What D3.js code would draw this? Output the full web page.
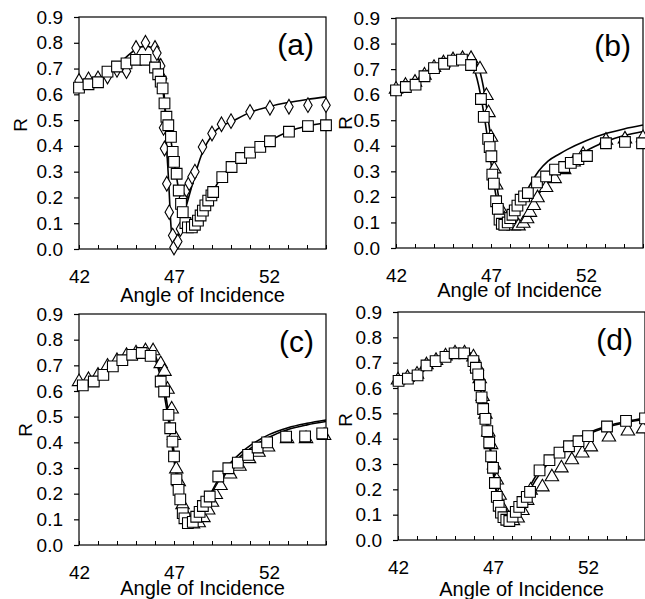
<!DOCTYPE html>
<html>
<head>
<meta charset="utf-8">
<script src="https://cdn.jsdelivr.net/npm/d3@7"></script>
<style>
body { margin: 0; background: #fff; }
svg text { font-family: "Liberation Sans", Arial, sans-serif; fill: #000; }
</style>
</head>
<body>
<svg id="fig" width="645" height="599"></svg>
<script>
// axis ticks
var angleTicks = [42, 43, 44, 45, 46, 47, 48, 49, 50, 51, 52, 53, 54, 55];
var angleLabels = [42, 47, 52];
var rTicks = [0, 0.1, 0.2, 0.3, 0.4, 0.5, 0.6, 0.7, 0.8, 0.9];

// panel (a): [angle, R]
var aDiamonds = [[42,0.652],[42.5,0.658],[43,0.662],[43.5,0.669],[44,0.695],[44.5,0.69],[45,0.78],[45.5,0.8],[46,0.78],[46.1,0.76],[46.3,0.71],[46.4,0.66],[46.45,0.47],[46.5,0.39],[46.62,0.253],[46.75,0.143],[46.93,0.052],[47.0,0.006],[47.2,0.029],[47.34,0.078],[47.5,0.2],[47.65,0.23],[47.8,0.255],[47.95,0.28],[48.1,0.3],[48.5,0.396],[49,0.448],[49.5,0.484],[50,0.496],[51,0.532],[52.05,0.548],[53.05,0.552],[54.05,0.558],[55,0.558]];
var aSquares = [[42,0.626],[42.5,0.639],[43,0.647],[43.5,0.688],[44,0.708],[44.5,0.72],[45,0.734],[45.5,0.734],[46,0.704],[46.17,0.678],[46.3,0.649],[46.4,0.623],[46.5,0.565],[46.6,0.513],[46.7,0.48],[46.84,0.435],[46.93,0.377],[47.0,0.338],[47.14,0.292],[47.25,0.227],[47.37,0.175],[47.46,0.143],[47.6,0.101],[47.73,0.084],[47.94,0.084],[48.1,0.094],[48.26,0.11],[48.4,0.13],[48.52,0.149],[48.65,0.169],[48.8,0.188],[48.97,0.208],[49.06,0.221],[49.54,0.279],[50.03,0.318],[50.53,0.353],[51,0.374],[51.54,0.396],[52.05,0.418],[53.05,0.455],[54.05,0.477],[55,0.48]];
var aFitDiamonds = [[42,0.635],[42.5,0.645],[43,0.66],[43.5,0.68],[44,0.71],[44.5,0.745],[45,0.775],[45.5,0.787],[45.8,0.782],[46,0.765],[46.3,0.71],[46.5,0.58],[46.57,0.455],[46.72,0.26],[46.84,0.09],[46.96,0.006],[47.1,0.02],[47.46,0.117],[47.9,0.234],[48.44,0.364],[49.15,0.455],[50.2,0.5],[51,0.53],[52,0.552],[53,0.568],[54,0.58],[55,0.59]];
var aFitSquares = [[42,0.62],[42.5,0.632],[43,0.647],[43.5,0.685],[44,0.708],[44.5,0.722],[45,0.735],[45.5,0.735],[46,0.705],[46.2,0.67],[46.4,0.62],[46.6,0.51],[46.8,0.44],[47,0.34],[47.2,0.25],[47.4,0.165],[47.6,0.1],[47.8,0.082],[48,0.085],[48.3,0.115],[48.6,0.16],[49,0.215],[49.5,0.28],[50,0.318],[50.5,0.352],[51,0.375],[51.5,0.396],[52,0.418],[53,0.455],[54,0.477],[55,0.49]];

// panel (b)
var bSquares = [[42,0.617],[42.52,0.63],[43.03,0.639],[43.5,0.672],[44,0.704],[44.53,0.721],[45,0.733],[45.47,0.737],[45.95,0.716],[46.47,0.583],[46.62,0.513],[46.85,0.427],[46.93,0.395],[47.02,0.359],[47.07,0.287],[47.15,0.252],[47.27,0.183],[47.36,0.153],[47.45,0.111],[47.57,0.095],[47.7,0.091],[47.88,0.1],[48.01,0.117],[48.13,0.13],[48.25,0.147],[48.39,0.166],[48.56,0.189],[48.74,0.202],[48.94,0.215],[49.42,0.257],[49.9,0.28],[50.37,0.307],[50.85,0.317],[51.2,0.333],[51.6,0.348],[52.05,0.36],[53.05,0.41],[54.05,0.415],[54.95,0.41]];
var bTriangles = [[42,0.625],[42.5,0.64],[43,0.652],[43.5,0.68],[44,0.71],[44.5,0.728],[45,0.74],[45.5,0.745],[45.95,0.745],[46.42,0.704],[46.76,0.6],[46.87,0.533],[47.0,0.437],[47.17,0.313],[47.27,0.25],[47.5,0.157],[47.7,0.117],[47.95,0.1],[48.2,0.09],[48.45,0.09],[48.7,0.1],[48.9,0.118],[49.05,0.143],[49.25,0.17],[49.45,0.2],[49.9,0.24],[50.35,0.275],[50.85,0.31],[51.35,0.34],[51.85,0.37],[53.05,0.425],[54.05,0.43],[55,0.435]];
var bFitSquares = [[42,0.62],[42.5,0.632],[43,0.645],[43.5,0.672],[44,0.7],[44.5,0.722],[45,0.738],[45.5,0.745],[45.9,0.73],[46.2,0.68],[46.5,0.58],[46.8,0.44],[47.1,0.28],[47.4,0.15],[47.7,0.09],[47.9,0.085],[48.2,0.11],[48.5,0.16],[49,0.24],[49.5,0.3],[50,0.34],[50.6,0.368],[51,0.385],[52,0.42],[53,0.447],[54,0.466],[55,0.481]];
var bFitTriangles = [[42,0.62],[42.5,0.632],[43,0.645],[43.5,0.672],[44,0.7],[44.5,0.722],[45,0.74],[45.5,0.75],[45.9,0.748],[46.3,0.715],[46.6,0.63],[46.9,0.48],[47.2,0.3],[47.5,0.16],[47.8,0.1],[48.1,0.08],[48.4,0.085],[48.7,0.11],[49,0.15],[49.5,0.21],[50,0.258],[50.6,0.305],[51,0.33],[52,0.38],[53,0.415],[54,0.44],[55,0.456]];

// panel (c)
var cSquares = [[42.2,0.622],[42.78,0.637],[43.28,0.663],[43.78,0.696],[44.28,0.72],[44.8,0.741],[45.3,0.748],[45.77,0.737],[46.3,0.637],[46.48,0.598],[46.71,0.507],[46.8,0.455],[46.92,0.403],[47.0,0.345],[47.13,0.256],[47.24,0.215],[47.33,0.178],[47.46,0.124],[47.55,0.104],[47.73,0.085],[47.99,0.09],[48.17,0.11],[48.35,0.129],[48.52,0.152],[48.7,0.169],[48.88,0.189],[49.33,0.267],[49.86,0.299],[50.36,0.321],[50.9,0.351],[51.4,0.38],[51.9,0.4],[52.9,0.422],[53.9,0.423],[54.8,0.435]];
var cTriangles = [[42,0.64],[42.5,0.648],[43,0.665],[43.5,0.7],[44,0.722],[44.5,0.742],[45,0.752],[45.5,0.76],[45.9,0.76],[46.3,0.71],[46.5,0.68],[46.66,0.61],[46.88,0.533],[47.0,0.43],[47.12,0.3],[47.25,0.25],[47.45,0.16],[47.7,0.11],[48,0.085],[48.3,0.09],[48.55,0.11],[48.8,0.14],[49.0,0.17],[49.2,0.2],[49.45,0.235],[49.95,0.28],[50.45,0.31],[50.95,0.34],[51.45,0.365],[51.95,0.385],[52.95,0.418],[53.95,0.418],[54.9,0.43]];
var cFitSquares = [[42,0.62],[43,0.655],[44,0.712],[44.5,0.738],[45,0.752],[45.5,0.755],[45.9,0.74],[46.2,0.68],[46.5,0.58],[46.8,0.44],[47.1,0.28],[47.4,0.15],[47.7,0.085],[48,0.078],[48.3,0.1],[48.6,0.15],[49,0.21],[49.5,0.275],[50,0.322],[50.5,0.358],[51,0.387],[52,0.43],[53,0.457],[54,0.474],[55,0.487]];
var cFitTriangles = [[42,0.62],[43,0.655],[44,0.712],[44.5,0.738],[45,0.755],[45.5,0.76],[45.9,0.75],[46.2,0.7],[46.5,0.61],[46.8,0.47],[47.1,0.31],[47.4,0.17],[47.7,0.095],[48,0.075],[48.3,0.09],[48.6,0.13],[49,0.19],[49.5,0.255],[50,0.305],[50.5,0.345],[51,0.375],[52,0.42],[53,0.45],[54,0.468],[55,0.481]];

// panel (d)
var dSquares = [[42.03,0.628],[42.52,0.637],[43.03,0.65],[43.5,0.689],[43.98,0.706],[44.5,0.723],[44.98,0.737],[45.48,0.737],[45.97,0.706],[46.1,0.68],[46.22,0.654],[46.31,0.611],[46.4,0.563],[46.48,0.517],[46.6,0.478],[46.7,0.43],[46.8,0.385],[46.9,0.33],[47.0,0.285],[47.1,0.225],[47.2,0.17],[47.3,0.135],[47.42,0.108],[47.55,0.09],[47.7,0.08],[47.86,0.075],[48.03,0.092],[48.2,0.111],[48.38,0.131],[48.55,0.15],[48.78,0.17],[48.95,0.19],[49.45,0.275],[49.97,0.315],[50.5,0.345],[51.0,0.37],[51.5,0.39],[52.0,0.41],[53.0,0.448],[54.0,0.47],[55.0,0.48]];
var dTriangles = [[42,0.635],[42.5,0.645],[43,0.658],[43.5,0.695],[44,0.712],[44.5,0.73],[45,0.742],[45.5,0.742],[45.97,0.726],[46.15,0.69],[46.3,0.64],[46.45,0.57],[46.6,0.5],[46.75,0.43],[46.9,0.38],[47.05,0.3],[47.2,0.24],[47.35,0.18],[47.5,0.13],[47.65,0.1],[47.85,0.085],[48.05,0.08],[48.3,0.09],[48.55,0.12],[48.8,0.16],[48.98,0.2],[49.6,0.213],[50.1,0.253],[50.6,0.288],[51.15,0.32],[51.7,0.347],[52.15,0.371],[53.1,0.41],[54.1,0.434],[54.9,0.442]];
var dFitSquares = [[42,0.625],[43,0.65],[44,0.705],[44.5,0.725],[45,0.74],[45.5,0.742],[45.9,0.725],[46.2,0.66],[46.5,0.53],[46.8,0.38],[47.1,0.22],[47.4,0.11],[47.7,0.075],[48,0.08],[48.3,0.115],[48.6,0.16],[49,0.22],[49.5,0.28],[50,0.32],[50.5,0.355],[51,0.382],[52,0.422],[53,0.45],[54,0.468],[55,0.48]];
var dFitTriangles = [[42,0.625],[43,0.65],[44,0.705],[44.5,0.727],[45,0.743],[45.5,0.746],[45.9,0.732],[46.2,0.675],[46.5,0.55],[46.8,0.4],[47.1,0.24],[47.4,0.12],[47.7,0.078],[48,0.075],[48.3,0.1],[48.6,0.145],[49,0.205],[49.5,0.265],[50,0.31],[50.5,0.345],[51,0.375],[52,0.417],[53,0.445],[54,0.464],[55,0.476]];

// panel placement on the page
var panels = [
  {label: "(a)", left: 79, right: 326, top: 17, bottom: 249, titleY: 302, rX: 20, rY: 125,
   lines: [aFitDiamonds, aFitSquares], marks: [[aDiamonds, "diamond"], [aSquares, "square"]]},
  {label: "(b)", left: 396, right: 643, top: 18, bottom: 248, titleY: 297, rX: 345, rY: 123,
   lines: [bFitSquares, bFitTriangles], marks: [[bTriangles, "triangle"], [bSquares, "square"]]},
  {label: "(c)", left: 79, right: 326, top: 314, bottom: 545, titleY: 595, rX: 25, rY: 430,
   lines: [cFitSquares, cFitTriangles], marks: [[cTriangles, "triangle"], [cSquares, "square"]]},
  {label: "(d)", left: 398, right: 645, top: 312, bottom: 540, titleY: 596, rX: 345, rY: 420,
   lines: [dFitSquares, dFitTriangles], marks: [[dTriangles, "triangle"], [dSquares, "square"]]}
];

var svg = d3.select("#fig");
svg.append("rect").attr("width", 645).attr("height", 599).attr("fill", "#fff");

var symbols = {
  square: d3.symbol().type(d3.symbolSquare).size(115),
  diamond: d3.symbol().type(d3.symbolDiamond).size(62),
  triangle: d3.symbol().type(d3.symbolTriangle).size(78)
};

panels.forEach(function(p) {
  var x = d3.scaleLinear().domain([42, 55]).range([p.left, p.right]);
  var y = d3.scaleLinear().domain([0, 0.9]).range([p.bottom, p.top]);
  var g = svg.append("g");

  // frame
  g.append("rect")
    .attr("x", p.left).attr("y", p.top)
    .attr("width", p.right - p.left).attr("height", p.bottom - p.top)
    .attr("fill", "none").attr("stroke", "#000").attr("stroke-width", 1.2);

  // y axis
  g.append("g")
    .attr("transform", "translate(" + p.left + ",0)")
    .call(d3.axisLeft(y).tickValues(rTicks).tickSize(5).tickPadding(11).tickFormat(d3.format(".1f")))
    .call(function(a) {
      a.select(".domain").remove();
      a.selectAll("line").attr("stroke-width", 1.2);
      a.selectAll("text").attr("font-size", 19).attr("font-family", "Liberation Sans, Arial, sans-serif");
    });

  // x axis, minor ticks pointing inward
  g.append("g")
    .attr("transform", "translate(0," + p.bottom + ")")
    .call(d3.axisBottom(x).tickValues(angleTicks).tickSize(-4).tickFormat(""))
    .call(function(a) {
      a.select(".domain").remove();
      a.selectAll("line").attr("stroke-width", 1);
    });
  g.append("g")
    .attr("transform", "translate(0," + p.bottom + ")")
    .call(d3.axisBottom(x).tickValues(angleLabels).tickSize(0).tickPadding(21).tickFormat(d3.format("d")))
    .call(function(a) {
      a.select(".domain").remove();
      a.selectAll("text").attr("font-size", 19).attr("font-family", "Liberation Sans, Arial, sans-serif");
    });

  // fitted curves
  var line = d3.line()
    .x(function(d) { return x(d[0]); })
    .y(function(d) { return y(d[1]); })
    .curve(d3.curveMonotoneX);
  p.lines.forEach(function(s) {
    g.append("path").datum(s)
      .attr("d", line)
      .attr("fill", "none").attr("stroke", "#000").attr("stroke-width", 1.6);
  });

  // measured points
  p.marks.forEach(function(m) {
    g.selectAll(null).data(m[0]).enter().append("path")
      .attr("d", symbols[m[1]])
      .attr("transform", function(d) {
        var dy = m[1] === "triangle" ? 1 : 0;
        return "translate(" + x(d[0]) + "," + (y(d[1]) + dy) + ")";
      })
      .attr("fill", "#fff").attr("stroke", "#000").attr("stroke-width", 1.1);
  });

  // panel label
  g.append("text")
    .attr("x", p.right - 12).attr("y", p.top + 38)
    .attr("text-anchor", "end").attr("font-size", 30)
    .text(p.label);

  // axis titles
  g.append("text")
    .attr("x", (p.left + p.right) / 2).attr("y", p.titleY)
    .attr("text-anchor", "middle").attr("font-size", 20)
    .text("Angle of Incidence");
  g.append("text")
    .attr("transform", "translate(" + (p.rX + 7) + "," + p.rY + ")rotate(-90)")
    .attr("text-anchor", "middle").attr("font-size", 19)
    .text("R");
});
</script>
</body>
</html>
